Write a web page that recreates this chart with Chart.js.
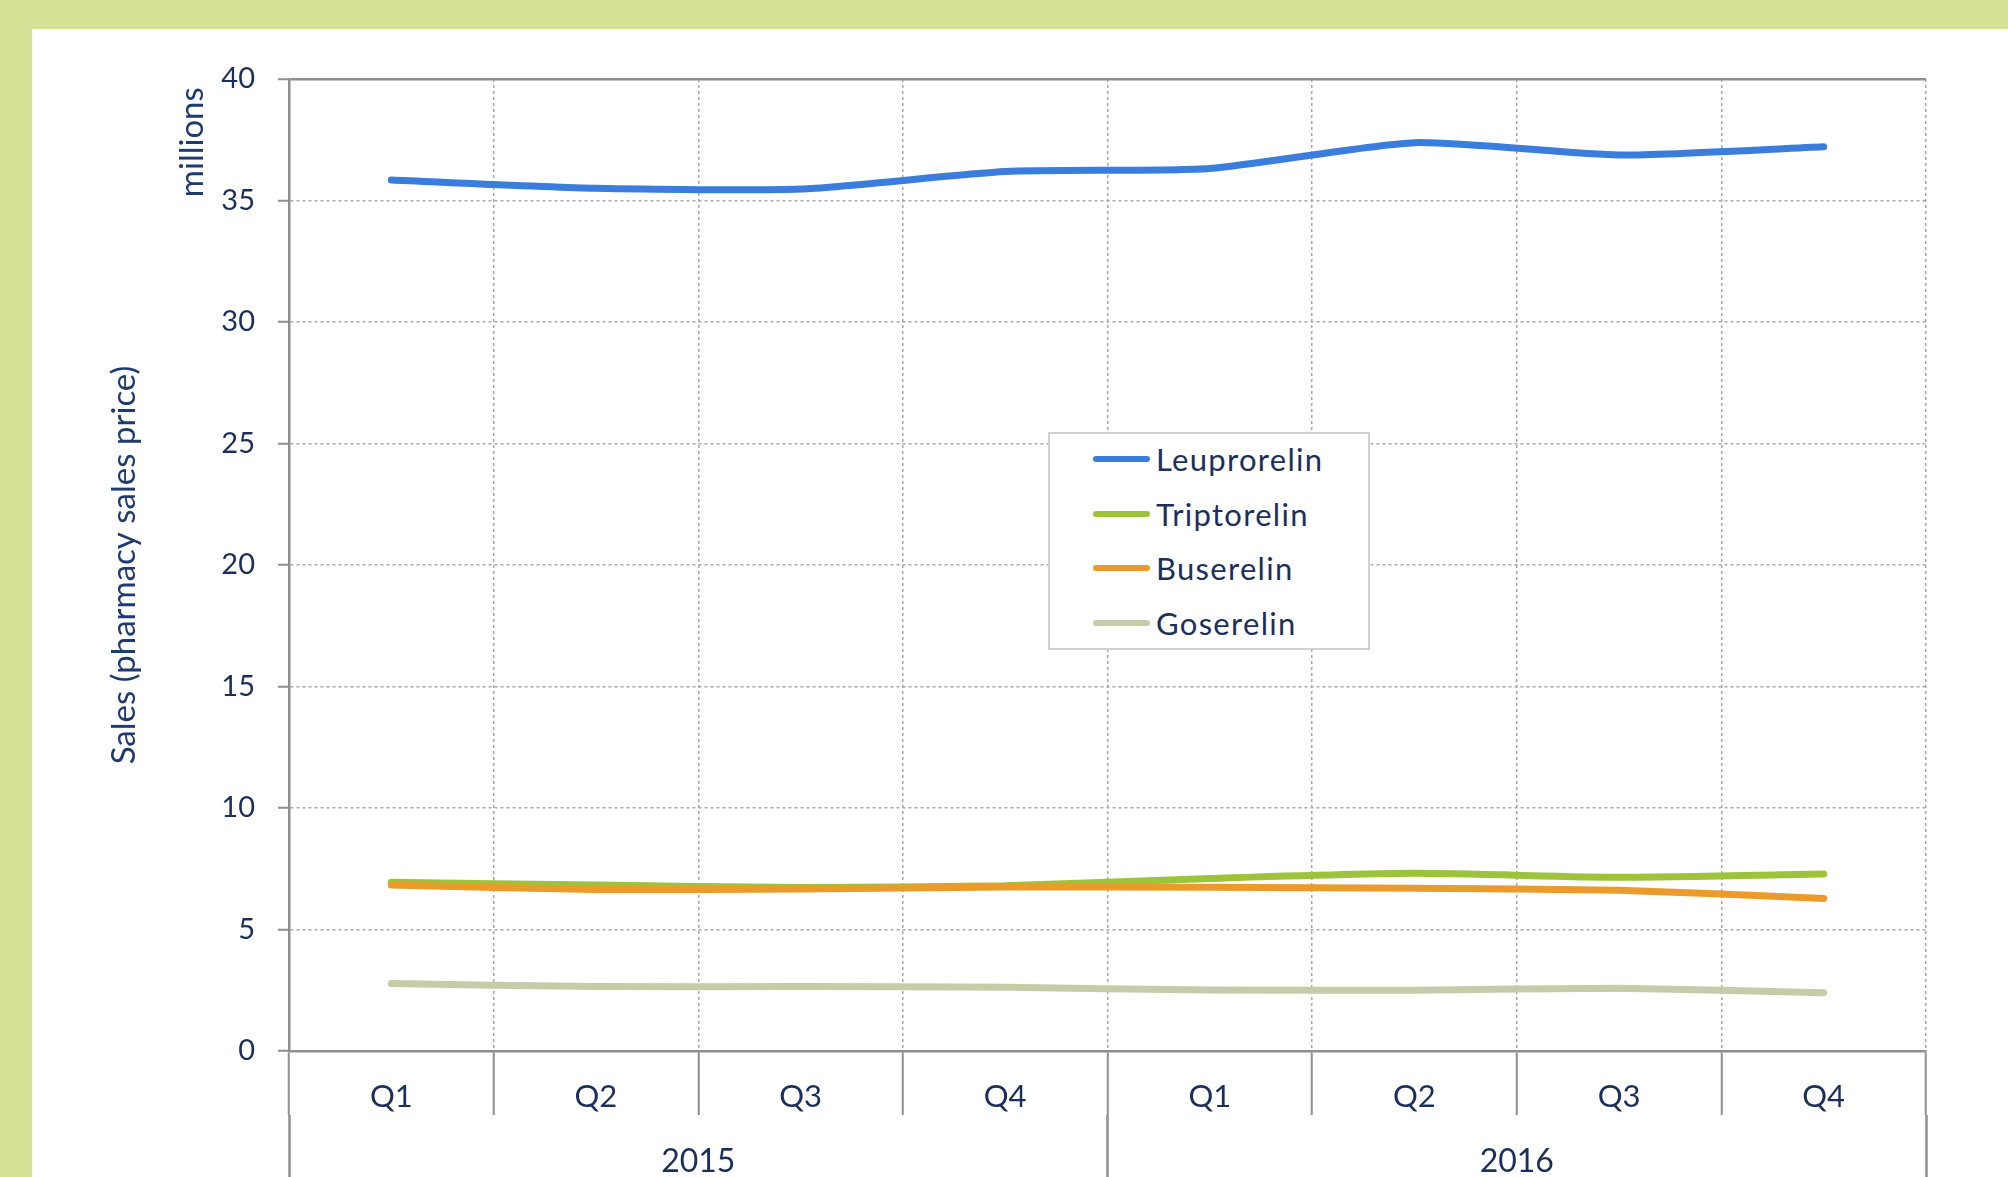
<!DOCTYPE html>
<html><head><meta charset="utf-8">
<script src="https://cdn.jsdelivr.net/npm/chart.js@4.4.1/dist/chart.umd.min.js"></script>
<style>
html,body{margin:0;padding:0;}
body{width:2008px;height:1177px;background:#d4e096;position:relative;overflow:hidden;font-family:Lato,sans-serif;}
#panel{position:absolute;left:32px;top:29px;right:0;bottom:0;background:#fff;}
#c{position:absolute;left:0;top:0;}
#legend{position:absolute;left:1048px;top:432px;width:322px;height:218px;border:2px solid #d0d0d0;background:#fff;box-sizing:border-box;}
.item{position:absolute;left:43px;height:40px;display:flex;align-items:center;}
.sw{width:57px;height:6px;border-radius:3px;margin-right:6px;}
.lbl{font-family:Lato,sans-serif;font-size:31px;letter-spacing:1.3px;color:#1c2f5a;white-space:nowrap;}
</style>
</head><body>
<div id="panel"></div>
<canvas id="c" width="2008" height="1177"></canvas>
<div id="legend"></div>
<script>
const categories = ['Q1','Q2','Q3','Q4','Q1','Q2','Q3','Q4'];
const years = ['2015','2016'];
const leuprorelin = [35.84,35.50,35.47,36.19,36.32,37.38,36.87,37.21];
const triptorelin = [6.94,6.83,6.73,6.80,7.10,7.31,7.15,7.28];
const buserelin   = [6.83,6.65,6.67,6.75,6.74,6.70,6.62,6.28];
const goserelin   = [2.78,2.65,2.65,2.62,2.51,2.50,2.58,2.40];
const seriesNames = ['Leuprorelin','Triptorelin','Buserelin','Goserelin'];
const seriesColors = ['#3b7ddc','#9dc33b','#ea9b2c','#c6cca8'];
const yMin = 0, yMax = 40, yStep = 5;
const yTitle = 'Sales (pharmacy sales price)';
const unitLabel = 'millions';

const textColor = '#1c2f5a';
const gridColor = '#a8a8a8';
const axisColor = '#8e8e8e';

const unitPlugin = {
  id:'unitLabel',
  afterDraw(chart){
    const {ctx, scales:{y}} = chart;
    ctx.save();
    ctx.translate(y.left + 112, y.getPixelForValue(37.4));
    ctx.rotate(-Math.PI/2);
    ctx.font = '33px Lato';
    ctx.fillStyle = '#1f3a6e';
    ctx.textAlign = 'center';
    ctx.textBaseline = 'middle';
    ctx.fillText(unitLabel, 0, 0);
    ctx.restore();
  }
};

function draw(){
  const datasets = [leuprorelin, triptorelin, buserelin, goserelin].map((d,i)=>({
    label: seriesNames[i], data: d, borderColor: seriesColors[i], backgroundColor: seriesColors[i],
    borderWidth: 7, pointRadius: 0, tension: 0.2, borderCapStyle:'round', borderJoinStyle:'round',
    fill:false, order: 4 - i
  }));
  const chart = new Chart(document.getElementById('c'), {
    type:'line',
    data:{ labels: categories, datasets },
    options:{
      responsive:false, animation:false, devicePixelRatio:1,
      layout:{ padding:{ left:80, top:79, right:82, bottom:0 } },
      plugins:{ legend:{display:false}, tooltip:{enabled:false} },
      scales:{
        x:{
          type:'category', position:'bottom', weight:0, offset:true,
          afterFit: s => { s.height = 64; },
          grid:{ offset:true, color: c => c.index===8 ? axisColor : gridColor, lineWidth: c => c.index===8 ? 2.5 : 1.5,
                 tickLength:64, tickColor:'#8f8f8f', tickWidth:2 },
          border:{ color:axisColor, width:2.5, dash: c => c.index===8 ? [] : [3,3] },
          ticks:{ padding:-37, font:{family:'Lato', size:31}, color:textColor, maxRotation:0, autoSkip:false }
        },
        x2:{
          type:'category', position:'bottom', weight:1, offset:true, labels: years,
          afterFit: s => { s.height = 62; },
          grid:{ offset:true, drawOnChartArea:false, tickLength:62, tickColor:'#8f8f8f', tickWidth:2.5, color:'rgba(0,0,0,0)' },
          border:{ display:false, width:0, color:'rgba(0,0,0,0)' },
          ticks:{ padding:-35, font:{family:'Lato', size:32}, color:textColor, maxRotation:0 }
        },
        y:{
          min:yMin, max:yMax,
          afterFit: s => { s.width = 209; },
          title:{ display:true, text:yTitle, color:'#1f3a6e', font:{family:'Lato', size:33}, padding:{top:25,bottom:0} },
          ticks:{ stepSize:yStep, padding:23, font:{family:'Lato', size:29}, color:textColor },
          grid:{ color: c => (c.tick && c.tick.value===yMax) ? axisColor : gridColor,
                 lineWidth: c => (c.tick && c.tick.value===yMax) ? 2.5 : 1.5,
                 tickLength:11, tickColor:axisColor, tickWidth:2 },
          border:{ color:axisColor, width:2.5, dash: c => (c.tick && c.tick.value===yMax) ? [] : [3,3] }
        }
      }
    },
    plugins:[unitPlugin]
  });
  const lg = document.getElementById('legend');
  chart.data.datasets.forEach((ds,i)=>{
    const it = document.createElement('div');
    it.className = 'item';
    it.style.top = (5 + i*54.5) + 'px';
    const sw = document.createElement('div'); sw.className='sw'; sw.style.background = ds.borderColor;
    const lb = document.createElement('span'); lb.className='lbl'; lb.textContent = ds.label;
    it.appendChild(sw); it.appendChild(lb); lg.appendChild(it);
  });
}
if (document.fonts && document.fonts.load) {
  document.fonts.load('29px Lato').then(draw, draw);
} else draw();
</script>
</body></html>
